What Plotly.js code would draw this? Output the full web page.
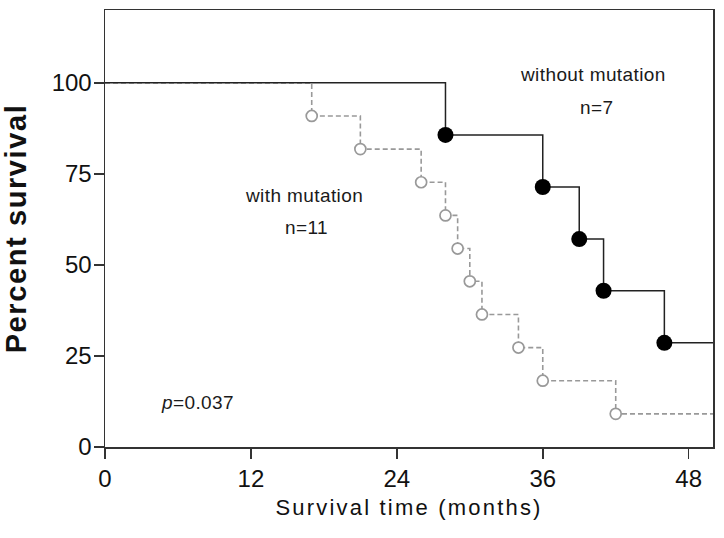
<!DOCTYPE html>
<html>
<head>
<meta charset="utf-8">
<script src="https://cdn.plot.ly/plotly-3.0.1.min.js"></script>
<style>
  html, body { margin: 0; padding: 0; background: #fff; }
  #chart { width: 724px; height: 538px; }
  .g-xtitle text { letter-spacing: 2.2px; }
  .g-ytitle text { letter-spacing: 1.6px; }
  .annotation-text { letter-spacing: 0.4px; }
</style>
</head>
<body>
<div id="chart"></div>
<script>
// Without mutation (n=7)
const withoutTime = [0, 28, 36, 39, 41, 46, 50];
const withoutSurv = [100, 85.7, 71.4, 57.1, 42.9, 28.6, 28.6];
// With mutation (n=11)
const withTime = [0, 17, 21, 26, 28, 29, 30, 31, 34, 36, 42, 50];
const withSurv = [100, 90.9, 81.8, 72.7, 63.6, 54.5, 45.5, 36.4, 27.3, 18.2, 9.1, 9.1];

const xTicks = [0, 12, 24, 36, 48];
const yTicks = [0, 25, 50, 75, 100];

const traces = [
  {
    x: withTime, y: withSurv, type: 'scatter', mode: 'lines',
    line: { shape: 'hv', color: '#999999', width: 1.6, dash: '5px,3px' },
    hoverinfo: 'skip', showlegend: false
  },
  {
    x: withTime.slice(1, -1), y: withSurv.slice(1, -1), type: 'scatter', mode: 'markers',
    marker: { symbol: 'circle', size: 11, color: '#ffffff', line: { color: '#999999', width: 1.7 } },
    showlegend: false
  },
  {
    x: withoutTime, y: withoutSurv, type: 'scatter', mode: 'lines',
    line: { shape: 'hv', color: '#222222', width: 1.5 },
    hoverinfo: 'skip', showlegend: false
  },
  {
    x: withoutTime.slice(1, -1), y: withoutSurv.slice(1, -1), type: 'scatter', mode: 'markers',
    marker: { symbol: 'circle', size: 16, color: '#000000', line: { width: 0 } },
    showlegend: false
  }
];

const annFont = { family: 'Arial, "Liberation Sans", sans-serif', size: 19, color: '#1a1a1a' };

const layout = {
  width: 724, height: 538,
  margin: { l: 105, r: 11, t: 10, b: 91 },
  paper_bgcolor: '#ffffff', plot_bgcolor: '#ffffff',
  font: { family: 'Arial, "Liberation Sans", sans-serif', color: '#111' },
  xaxis: {
    range: [0, 50], tickvals: xTicks, ticktext: xTicks.map(String),
    showgrid: false, zeroline: false,
    showline: true, mirror: true, linecolor: '#333', linewidth: 1.5,
    ticks: 'outside', ticklen: 10, tickwidth: 1.5, tickcolor: '#333',
    tickfont: { size: 24, color: '#111' },
    title: { text: 'Survival time (months)', font: { size: 22, color: '#111', weight: 500 }, standoff: 8 }
  },
  yaxis: {
    range: [0, 120], tickvals: yTicks, ticktext: yTicks.map(String),
    showgrid: false, zeroline: false,
    showline: true, mirror: true, linecolor: '#333', linewidth: 1.5,
    ticks: 'outside', ticklen: 10, tickwidth: 1.5, tickcolor: '#333',
    ticklabelstandoff: -3,
    tickfont: { size: 24, color: '#111' },
    title: { text: '<b>Percent survival</b>', font: { size: 29, color: '#111' }, standoff: 16 }
  },
  annotations: [
    { x: 40.1, y: 102.2, xref: 'x', yref: 'y', text: 'without mutation', showarrow: false, font: annFont },
    { x: 40.4, y: 93.1, xref: 'x', yref: 'y', text: 'n=7', showarrow: false, font: annFont },
    { x: 16.4, y: 69.2, xref: 'x', yref: 'y', text: 'with mutation', showarrow: false, font: annFont },
    { x: 16.6, y: 60.4, xref: 'x', yref: 'y', text: 'n=11', showarrow: false, font: annFont },
    { x: 7.6, y: 12.1, xref: 'x', yref: 'y', text: '<i>p</i>=0.037', showarrow: false, font: annFont }
  ],
  showlegend: false
};

Plotly.newPlot('chart', traces, layout, { staticPlot: true, displayModeBar: false });
</script>
</body>
</html>
